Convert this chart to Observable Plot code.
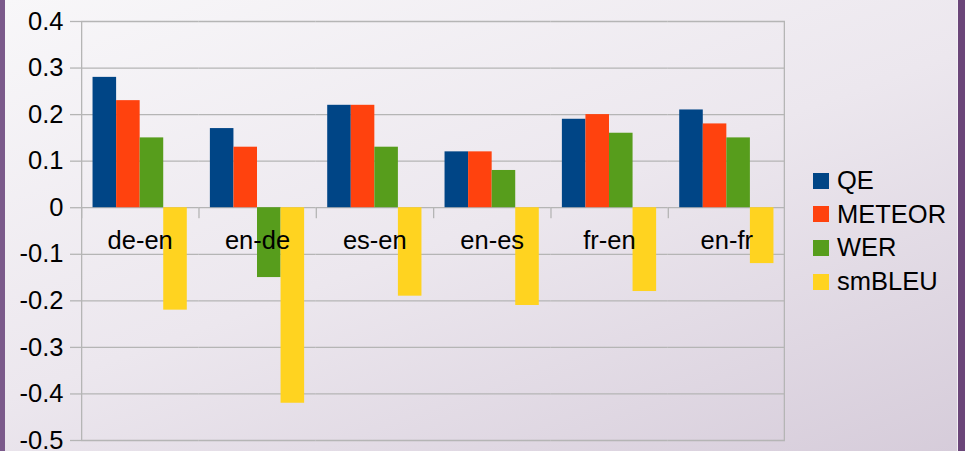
<!DOCTYPE html>
<html>
<head>
<meta charset="utf-8">
<script src="https://cdn.jsdelivr.net/npm/d3@7"></script>
<script src="https://cdn.jsdelivr.net/npm/@observablehq/plot@0.6"></script>
<style>
  html, body { margin: 0; padding: 0; }
  #chart {
    position: relative; width: 965px; height: 451px; overflow: hidden;
    background: linear-gradient(160deg, #f8f7f9 0%, #ece7ee 50%, #d6ccda 100%);
    font-family: "Liberation Sans", Arial, sans-serif;
  }
  .edge { position: absolute; top: 0; bottom: 0; }
  #edgeL { left: 0; width: 5px; background: #7b5a8b; }
  #edgeR { right: 0; width: 7px; background: #6b4679; border-left: 1px solid #f3f0f4; }
  #chart svg { position: absolute; left: 0; top: 0; }
  #legend { position: absolute; left: 813px; top: 164px; }
  .row { display: flex; align-items: center; height: 33.6px; font-size: 25.5px; color: #000; white-space: nowrap; }
  .sw { width: 16px; height: 16px; margin-right: 8px; flex: none; }
</style>
</head>
<body>
<div id="chart">
  <div class="edge" id="edgeL"></div>
  <div class="edge" id="edgeR"></div>
  <div id="legend"></div>
</div>
<script>
// Language pairs and evaluation metrics
const categories = ["de-en", "en-de", "es-en", "en-es", "fr-en", "en-fr"];
const series = ["QE", "METEOR", "WER", "smBLEU"];

// Correlation values per metric, in the order of the language pairs
const qe     = [0.28, 0.17, 0.22, 0.12, 0.19, 0.21];
const meteor = [0.23, 0.13, 0.22, 0.12, 0.20, 0.18];
const wer    = [0.15, -0.15, 0.13, 0.08, 0.16, 0.15];
const smbleu = [-0.22, -0.42, -0.19, -0.21, -0.18, -0.12];

const colors = ["#004586", "#ff420e", "#579d1c", "#ffd320"];
const yTicks = [0.4, 0.3, 0.2, 0.1, 0, -0.1, -0.2, -0.3, -0.4, -0.5];

const values = [qe, meteor, wer, smbleu];
const rows = categories.flatMap((c, i) =>
  series.map((s, j) => ({ category: c, series: s, value: values[j][i] }))
);

const W = 965, H = 451;
const mL = 81, mR = 180, mT = 21, mB = 11;
const facetW = (W - mL - mR) / categories.length;
const grid = "#b5b5b5";
const lineW = 1.3;
const fs = 25.5;
const yMin = yTicks[yTicks.length - 1], yMax = yTicks[0];
const fmt = d => d === 0 ? "0" : d.toFixed(1);

const chart = Plot.plot({
  width: W, height: H,
  marginLeft: mL, marginRight: mR, marginTop: mT, marginBottom: mB,
  style: { background: "transparent", fontFamily: "Liberation Sans, Arial, sans-serif", fontSize: fs + "px", color: "#000", overflow: "visible" },
  fx: { domain: categories, padding: 0, round: false, axis: null, label: null },
  x: { domain: series, paddingInner: 0, paddingOuter: 0.49, round: false, axis: null },
  y: { domain: [yMin, yMax], axis: null },
  color: { domain: series, range: colors },
  marks: [
    // horizontal gridlines
    Plot.ruleY(yTicks, { stroke: grid, strokeWidth: lineW }),
    // value axis with outward ticks
    Plot.axisY(yTicks, { tickSize: 11, tickPadding: 7, stroke: grid, strokeWidth: lineW, fill: "#000", tickFormat: fmt, fontSize: fs, label: null }),
    // left axis line and right frame edge
    Plot.rect(categories.slice(0, 1), { fx: d => d, y1: yMin, y2: yMax, insetRight: facetW - lineW, fill: grid }),
    Plot.rect(categories.slice(-1), { fx: d => d, y1: yMin, y2: yMax, insetLeft: facetW - lineW, fill: grid }),
    // category boundary ticks hanging below the zero line
    Plot.rect(categories, { fx: d => d, y1: 0, y2: 0, insetBottom: -11, insetRight: facetW - lineW, fill: grid }),
    // grouped bars
    Plot.barY(rows, { fx: "category", x: "series", y1: 0, y2: "value", fill: "series", insetLeft: 0, insetRight: 0 }),
    // category names, drawn over the bars
    Plot.text(categories, { fx: d => d, text: d => d, y: 0, dy: 33, fontSize: fs, fill: "#000" })
  ]
});

const host = document.getElementById("chart");
host.insertBefore(chart, document.getElementById("legend"));

const legend = document.getElementById("legend");
series.forEach((s, i) => {
  const row = document.createElement("div");
  row.className = "row";
  const sw = document.createElement("span");
  sw.className = "sw";
  sw.style.background = colors[i];
  const label = document.createElement("span");
  label.textContent = s;
  row.appendChild(sw);
  row.appendChild(label);
  legend.appendChild(row);
});
</script>
</body>
</html>
